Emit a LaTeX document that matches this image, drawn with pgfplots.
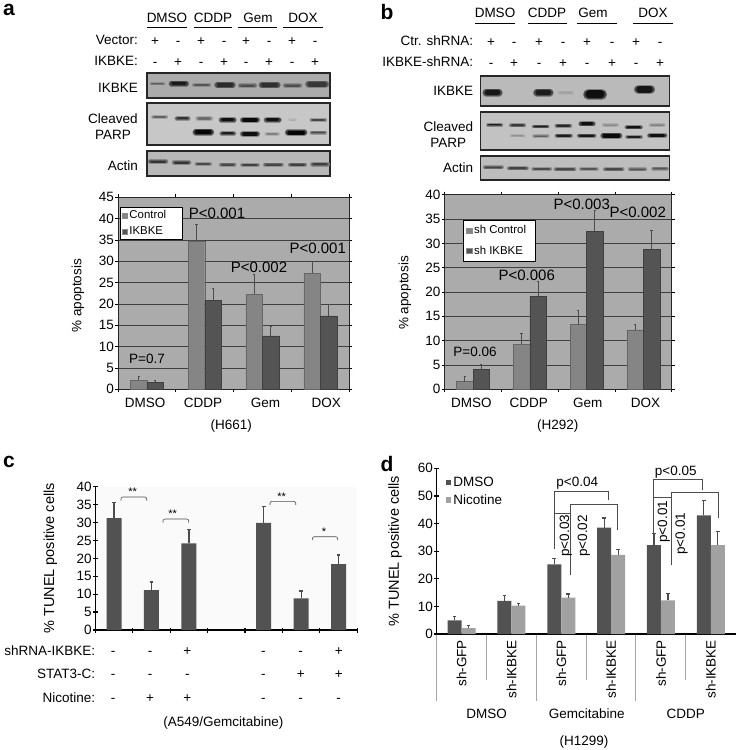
\documentclass[border=0pt]{standalone}
\usepackage{fontspec}
\setmainfont{Liberation Sans}
\usepackage{pgfplots}
\pgfplotsset{compat=1.18}

\newcommand\fs{\fontsize{13.5}{15}\selectfont}
\newcommand\fp{\fontsize{15}{17}\selectfont}
\newcommand\fl{\fontsize{11.4}{13}\selectfont}
\newcommand\fy{\fontsize{14.5}{16}\selectfont}

% blot band: x0 x1 y (zoom px), core width (pt), darkness
\newcommand\band[5]{%
  \pgfmathsetmacro\ba{#1+(#4+2.4)*1.1}%
  \pgfmathsetmacro\bb{#2-(#4+2.4)*1.1}%
  \pgfmathsetmacro\bc{#1+(#4+2.4)*1.1+4}%
  \pgfmathsetmacro\bd{#2-(#4+2.4)*1.1-4}%
  \addplot[forget plot,line cap=round,line width=#4pt+2.4pt,draw=black!#5!bgc!35!bgc] coordinates {(\ba,#3) (\bb,#3)};
  \addplot[forget plot,line cap=round,line width=#4pt+1.1pt,draw=black!#5!bgc!70!bgc] coordinates {(\ba,#3) (\bb,#3)};
  \addplot[forget plot,line cap=round,line width=#4pt,draw=black!#5!bgc] coordinates {(\bc,#3) (\bd,#3)};
}

\pgfplotsset{
  /pgf/number format/assume math mode=true,
  blot/.style={
    scale only axis, anchor=south west, ticks=none, y dir=reverse,
    axis background/.style={fill=bgc},
    axis line style={line width=1.2pt,black!85},
  },
  chart/.style={
    scale only axis, anchor=south west, ymin=0,
    ybar=0pt, tick align=outside, major tick length=3pt,
    tick label style={font=\fs}, tick style={black,line width=.8pt},
    xmin=0, xmax=4, xtick={0,1,2,3,4}, xticklabel=\empty,
    extra x tick style={major tick length=0pt},
    extra x tick labels={DMSO,CDDP,Gem,DOX},
    xticklabel style={text height=9.6pt,text depth=0pt,inner sep=0pt,yshift=-8pt},
    yticklabel style={inner sep=1pt},
    ymajorgrids, grid style={black!75,line width=.8pt},
    axis background/.style={fill=black!33},
    axis line style={black!85,line width=.9pt},
    legend cell align=left,
    legend image code/.code={\draw[##1,draw=black!45,line width=.4pt] (0pt,-2.5pt) rectangle (5.5pt,2.5pt);},
  },
  open/.style={
    scale only axis, anchor=south west, ymin=0,
    tick align=outside, major tick length=5pt,
    axis lines=left, axis line style={-,black,line width=1.5pt},
    tick label style={font=\fs}, tick style={black,line width=1.2pt},
    yticklabel style={inner sep=1pt},
  },
  errs/.style={
    error bars/.cd, y dir=plus, y explicit,
    error bar style={line width=#1,black!70},
    error mark options={rotate=90,mark size=1.8pt,line width=#1,black!70},
  },
  errt/.style={
    error bars/.cd, y dir=plus, y explicit,
    error bar style={line width=#1,black!70},
    error mark options={rotate=90,mark size=1.1pt,line width=#1,black!70},
  },
}

\tikzset{
  t/.style={font=\fs,inner sep=0pt,text height=9.6pt,text depth=0pt,anchor=center},
  r/.style={t,anchor=east},
  pv/.style={t,font=\fp,text height=10.6pt},
  panel/.style={font=\fontsize{21}{21}\selectfont\bfseries,inner sep=0pt,anchor=base,text height=11pt,text depth=0pt},
  br/.style={black!70,line width=.6pt},
}

\begin{document}
\begin{tikzpicture}[x=1pt,y=-1pt]
\path (0,0) rectangle (741,750);

% ---------- panel a, blots
\node[panel] at (9,15.5) {a};
\foreach \x/\a/\b/\n in {167/147/187/DMSO,213/194/232/CDDP,258/238/277/Gem,303/283/323/DOX}{
  \node[t] at (\x,18) {\n};
  \draw[black,line width=.7pt] (\a,27.5) -- (\b,27.5);
}
\node[r] at (138,40) {Vector:};
\node[r] at (138,61) {IKBKE:};
\foreach \x/\u/\v in {155/+/-,178/-/+,201/+/-,224/-/+,246/+/-,269/-/+,292/+/-,315/-/+}{
  \node[t] at (\x,40.5) {\u};
  \node[t] at (\x,61.5) {\v};
}
\node[r] at (138,87.7) {IKBKE};
\node[t] at (113,118.3) {Cleaved};
\node[t] at (113,135) {PARP};
\node[r] at (138,165.7) {Actin};

\colorlet{bgc}{black!33}
\begin{axis}[blot,at={(147pt,-98pt)},width=183pt,height=25pt,xmin=441,xmax=990,ymin=218,ymax=293]
\band{450}{495}{250}{1.2}{45}
\band{508}{565}{250}{3.5}{85}
\band{578}{632}{254}{1.5}{50}
\band{645}{705}{254}{4}{75}
\band{715}{770}{256}{2}{55}
\band{778}{840}{254}{4.5}{72}
\band{850}{905}{256}{2}{55}
\band{918}{985}{252}{5}{68}
\end{axis}
\colorlet{bgc}{black!22}
\begin{axis}[blot,at={(147pt,-145pt)},width=183pt,height=42pt,xmin=441,xmax=990,ymin=310,ymax=435]
\band{455}{503}{352}{1.5}{50}
\band{525}{570}{356}{2}{75}
\band{588}{637}{356}{2.5}{45}
\band{658}{708}{360}{3}{92}
\band{722}{778}{360}{3.5}{95}
\band{793}{843}{360}{3}{92}
\band{865}{890}{360}{.5}{14}
\band{930}{980}{360}{1.5}{65}
\band{580}{640}{397}{4.5}{97}
\band{660}{707}{400}{2.2}{85}
\band{722}{778}{402}{3.5}{92}
\band{795}{838}{402}{1.2}{35}
\band{857}{920}{398}{4}{97}
\band{930}{980}{398}{1.5}{62}
\end{axis}
\colorlet{bgc}{black!28}
\begin{axis}[blot,at={(147pt,-176pt)},width=183pt,height=25pt,xmin=441,xmax=990,ymin=453,ymax=528]
\band{445}{503}{485}{2}{72}
\band{517}{572}{488}{2.2}{72}
\band{585}{635}{492}{1.8}{60}
\band{658}{708}{494}{1.8}{60}
\band{722}{778}{495}{1.8}{65}
\band{790}{850}{494}{1.8}{62}
\band{865}{920}{494}{1.8}{65}
\band{932}{988}{493}{2}{65}
\end{axis}

% ---------- panel a, chart
\begin{axis}[chart,at={(118pt,-389.3pt)},width=231.3pt,height=192pt,ymax=45,
  ytick={0,5,...,45},bar width=16.6pt,
  extra x ticks={0.47,1.47,2.55,3.6},
  xlabel={(H661)},xlabel style={font=\fs,at={(axis description cs:0.49,-0.191)},anchor=center},
  ylabel={\% apoptosis},ylabel style={font=\fs,at={(axis description cs:-0.173,0.487)},anchor=center},
  legend style={at={(axis description cs:0.0074,0.951)},anchor=north west,font=\fl,
    draw=black,fill=white,line width=.7pt,inner sep=1.5pt,row sep=2.5pt},
]
\addplot[fill=black!48,draw=black!60,line width=.4pt,errt=.9pt] coordinates {
  (0.5,2.1) +- (0,0.9)  (1.5,34.8) +- (0,3.9)  (2.5,22.3) +- (0,4.7)  (3.5,27.2) +- (0,2.7)};
\addlegendentry{\makebox[49pt][l]{Control}}
\addplot[fill=black!67,draw=black!75,line width=.4pt,errt=.9pt] coordinates {
  (0.5,1.6) +- (0,0.5)  (1.5,20.8) +- (0,2.9)  (2.5,12.5) +- (0,2.3)  (3.5,17.2) +- (0,2.6)};
\addlegendentry{IKBKE}
\end{axis}
\node[t] at (147,359) {P=0.7};
\node[pv] at (217,213) {P<0.001};
\node[pv] at (259,267) {P<0.002};
\node[pv] at (317.7,247.7) {P<0.001};

% ---------- panel b, blots
\node[panel] at (387,19) {b};
\foreach \x/\a/\b/\n in {495/475/515/DMSO,547/528/567/CDDP,593/577/617/Gem,653/633/673/DOX}{
  \node[t] at (\x,13) {\n};
  \draw[black,line width=.7pt] (\a,23.5) -- (\b,23.5);
}
\node[r] at (473.3,41) {Ctr. shRNA:};
\node[r] at (473.3,62) {IKBKE-shRNA:};
\foreach \x/\u/\v in {491/+/-,514/-/+,539/+/-,563/-/+,587/+/-,612/-/+,636/+/-,660/-/+}{
  \node[t] at (\x,42) {\u};
  \node[t] at (\x,63) {\v};
}
\node[r] at (473.3,90.7) {IKBKE};
\node[t] at (448.3,126.7) {Cleaved};
\node[t] at (448.3,142.7) {PARP};
\node[r] at (473.3,167.7) {Actin};

\colorlet{bgc}{black!27}
\begin{axis}[blot,at={(480.7pt,-106pt)},width=189pt,height=30pt,xmin=332,xmax=899,ymin=228,ymax=318]
\band{340}{395}{278}{5.5}{88}
\band{492}{548}{278}{5.5}{85}
\band{565}{610}{278}{1.5}{15}
\band{643}{707}{283}{8}{92}
\band{795}{852}{268}{6.5}{88}
\end{axis}
\colorlet{bgc}{black!24}
\begin{axis}[blot,at={(480.7pt,-150pt)},width=189pt,height=38pt,xmin=332,xmax=899,ymin=336,ymax=451]
\band{350}{398}{375}{1.2}{85}
\band{418}{467}{376}{1.5}{70}
\band{487}{537}{380}{1.5}{85}
\band{555}{605}{378}{1.8}{80}
\band{627}{675}{372}{2.8}{92}
\band{697}{745}{376}{1.2}{30}
\band{765}{817}{382}{1.5}{92}
\band{838}{885}{376}{1.2}{35}
\band{420}{465}{408}{.8}{25}
\band{488}{537}{409}{1.2}{50}
\band{555}{607}{408}{1.5}{85}
\band{622}{678}{408}{1.8}{88}
\band{693}{755}{408}{3.5}{95}
\band{767}{817}{412}{1.3}{85}
\band{833}{890}{407}{2.8}{92}
\end{axis}
\colorlet{bgc}{black!26}
\begin{axis}[blot,at={(480.7pt,-180pt)},width=189pt,height=24pt,xmin=332,xmax=899,ymin=469,ymax=541]
\band{340}{400}{503}{1.6}{65}
\band{412}{475}{506}{1.8}{65}
\band{485}{545}{508}{1.8}{60}
\band{552}{618}{509}{1.8}{62}
\band{628}{685}{508}{1.6}{55}
\band{700}{762}{509}{1.8}{62}
\band{775}{830}{509}{1.5}{55}
\band{845}{895}{507}{1.6}{55}
\end{axis}

% ---------- panel b, chart
\begin{axis}[chart,at={(444.7pt,-389.3pt)},width=227pt,height=194.6pt,ymax=40,
  ytick={0,5,...,40},bar width=16.5pt,
  extra x ticks={0.47,1.48,2.52,3.54},
  xlabel={(H292)},xlabel style={font=\fs,at={(axis description cs:0.498,-0.19)},anchor=center},
  ylabel={\% apoptosis},ylabel style={font=\fs,at={(axis description cs:-0.175,0.495)},anchor=center},
  legend style={at={(axis description cs:0.08,0.87)},anchor=north west,font=\fl,
    draw=black,fill=white,line width=.7pt,inner sep=3pt,row sep=7pt},
]
\addplot[fill=black!48,draw=black!60,line width=.4pt,errt=.9pt] coordinates {
  (0.5,1.6) +- (0,1.0)  (1.5,9.3) +- (0,2.2)  (2.5,13.3) +- (0,2.9)  (3.5,12.2) +- (0,1.2)};
\addlegendentry{\makebox[56pt][l]{sh Control}}
\addplot[fill=black!67,draw=black!75,line width=.4pt,errt=.9pt] coordinates {
  (0.5,4.1) +- (0,1.0)  (1.5,19.1) +- (0,3.0)  (2.5,32.5) +- (0,4.2)  (3.5,28.8) +- (0,3.9)};
\addlegendentry{sh IKBKE}
\end{axis}
\node[t] at (475,352) {P=0.06};
\node[pv] at (526.7,275) {P<0.006};
\node[pv] at (581.7,204) {P<0.003};
\node[pv] at (637.7,212) {P<0.002};

% ---------- panel c
\node[panel] at (9,467) {c};
\begin{axis}[open,at={(95.3pt,-630pt)},width=262pt,height=143.3pt,xmin=0,xmax=7,ymax=40,
  xtick={0,1,...,7},xticklabel=\empty,ytick={0,5,...,40},
  ylabel={\% TUNEL positive cells},ylabel style={font=\fy,at={(axis description cs:-0.171,0.5)},anchor=center},
  axis background/.style={fill=black!2},
]
\addplot[ybar,bar width=15pt,bar shift=0pt,fill=black!68,draw=none,errs=1.3pt] coordinates {
  (0.5,31.2) +- (0,4.3)  (1.5,11.1) +- (0,2.3)  (2.5,24.2) +- (0,3.8)
  (4.5,29.9) +- (0,4.6)  (5.5,8.8) +- (0,2.1)  (6.5,18.4) +- (0,2.5)};
\end{axis}
\foreach \a/\b/\y/\s/\sx in {121/146.7/497/{**}/132.7,163/188.7/519/{**}/172.7,270/295.7/501.3/{**}/281.7,312.3/337.7/536.7/{*}/324}{
  \draw[br,rounded corners=2pt] (\a,\y+3.5) -- (\a,\y) -- (\b,\y) -- (\b,\y+3.5);
  \node[font=\fontsize{11}{12}\selectfont,inner sep=0pt] at (\sx,\y-5) {\s};
}
\node[r] at (95.3,651) {shRNA-IKBKE:};
\node[r] at (95.3,674) {STAT3-C:};
\node[r] at (95.3,697.7) {Nicotine:};
\foreach \x/\u/\v/\w in {113/-/-/-,150/-/-/+,187.3/+/-/+,263.3/-/-/-,300.7/-/+/-,338.7/+/+/-}{
  \node[t] at (\x,651) {\u};
  \node[t] at (\x,674) {\v};
  \node[t] at (\x,697.7) {\w};
}
\node[t] at (223.3,721.7) {(A549/Gemcitabine)};

% ---------- panel d
\node[panel] at (387,471) {d};
\begin{axis}[open,at={(436.7pt,-634pt)},width=299pt,height=165.7pt,xmin=0,xmax=6,ymax=60,
  ybar=0pt,bar width=14pt,
  xtick={0.5,1.5,2.5,3.5,4.5,5.5},
  xticklabels={sh-GFP,sh-IKBKE,sh-GFP,sh-IKBKE,sh-GFP,sh-IKBKE},
  xticklabel style={rotate=90,anchor=east,inner sep=1pt,text height=9.6pt,text depth=0pt},
  x tick style={draw=none},
  ytick={0,10,...,60},
  ylabel={\% TUNEL positive cells},ylabel style={font=\fy,at={(axis description cs:-0.139,0.5)},anchor=center},
  legend style={at={(axis description cs:0.03,0.96)},anchor=north west,font=\fs,
    draw=none,fill=none,inner sep=0pt,row sep=2.5pt},
  legend cell align=left,
  legend image code/.code={\fill[#1] (0pt,-2.8pt) rectangle (5.6pt,2.8pt);},
]
\addplot[fill=black!68,draw=none,errs=1.1pt] coordinates {
  (0.5,4.9) +- (0,1.6)  (1.5,12.0) +- (0,2.1)  (2.5,25.2) +- (0,2.2)
  (3.5,38.5) +- (0,3.5)  (4.5,32.2) +- (0,4.3)  (5.5,43.0) +- (0,5.5)};
\addlegendentry{DMSO}
\addplot[fill=black!37,draw=none,errs=1.1pt] coordinates {
  (0.5,2.1) +- (0,0.9)  (1.5,10.3) +- (0,0.6)  (2.5,13.2) +- (0,1.3)
  (3.5,28.7) +- (0,2.0)  (4.5,12.2) +- (0,2.4)  (5.5,32.2) +- (0,4.8)};
\addlegendentry{Nicotine}
\end{axis}
\foreach \x in {436.7,536,635.7}{\draw[black!35,line width=.7pt] (\x,635) -- (\x,700.7);}
\foreach \x in {486.3,586,685.7}{\draw[black!35,line width=.7pt] (\x,635) -- (\x,680);}
\node[t] at (486.7,713.3) {DMSO};
\node[t] at (586.7,713.3) {Gemcitabine};
\node[t] at (685.7,713.3) {CDDP};
\node[t] at (584,740.7) {(H1299)};
% p value brackets
\draw[br] (554.3,549.3) -- (554.3,491) -- (608.3,491) -- (608.3,500);
\draw[br] (554.3,513.3) -- (570.3,513.3);
\draw[br] (570.3,575) -- (570.3,504.3) -- (617.7,504.3) -- (617.7,530);
\draw[br] (653,543.3) -- (653,479.7) -- (702.7,479.7) -- (702.7,490);
\draw[br] (653,497.3) -- (671,497.3);
\draw[br] (671,565) -- (671,492.3) -- (718,492.3) -- (718,518.3);
\node[t] at (577.3,481.7) {p<0.04};
\node[t] at (675.7,470.3) {p<0.05};
\node[t,rotate=90] at (564.3,535.7) {p<0.03};
\node[t,rotate=90] at (582.3,536) {p<0.02};
\node[t,rotate=90] at (662.3,521.7) {p<0.01};
\node[t,rotate=90] at (680,533.7) {p<0.01};
\end{tikzpicture}
\end{document}
